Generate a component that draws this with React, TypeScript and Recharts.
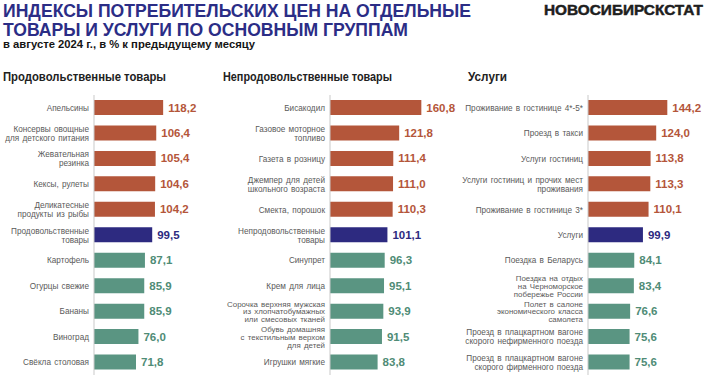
import { BarChart, Bar, XAxis, YAxis, Cell, LabelList } from "recharts";

const foodNames = [
  "Апельсины",
  "Консервы овощные\nдля детского питания",
  "Жевательная\nрезинка",
  "Кексы, рулеты",
  "Деликатесные\nпродукты из рыбы",
  "Продовольственные\nтовары",
  "Картофель",
  "Огурцы свежие",
  "Бананы",
  "Виноград",
  "Свёкла столовая",
];
const foodValues = [118.2, 106.4, 105.4, 104.6, 104.2, 99.5, 87.1, 85.9, 85.9, 76.0, 71.8];

const nonFoodNames = [
  "Бисакодил",
  "Газовое моторное\nтопливо",
  "Газета в розницу",
  "Джемпер для детей\nшкольного возраста",
  "Смекта, порошок",
  "Непродовольственные\nтовары",
  "Синупрет",
  "Крем для лица",
  "Сорочка верхняя мужская\nиз хлопчатобумажных\nили смесовых тканей",
  "Обувь домашняя\nс текстильным верхом\nдля детей",
  "Игрушки мягкие",
];
const nonFoodValues = [160.8, 121.8, 111.4, 111.0, 110.3, 101.1, 96.3, 95.1, 93.9, 91.5, 83.8];

const serviceNames = [
  "Проживание в гостинице 4*-5*",
  "Проезд в такси",
  "Услуги гостиниц",
  "Услуги гостиниц и прочих мест\nпроживания",
  "Проживание в гостинице 3*",
  "Услуги",
  "Поездка в Беларусь",
  "Поездка на отдых\nна Черноморское\nпобережье России",
  "Полет в салоне\nэкономического класса\nсамолета",
  "Проезд в плацкартном вагоне\nскорого нефирменного поезда",
  "Проезд в плацкартном вагоне\nскорого фирменного поезда",
];
const serviceValues = [144.2, 124.0, 113.8, 113.3, 110.1, 99.9, 84.1, 83.4, 76.6, 75.6, 75.6];

// index of the group total row in each panel
const TOTAL_INDEX = 5;

const RED = "#B4563A";
const NAVY = "#2D2A80";
const GREEN = "#5A9582";
const GREEN_TEXT = "#4F8C76";
const FONT = "'Liberation Sans', Arial, sans-serif";

function barColor(v: number, total: number) {
  if (v > total) return RED;
  if (v < total) return GREEN;
  return NAVY;
}

function textColor(v: number, total: number) {
  if (v > total) return RED;
  if (v < total) return GREEN_TEXT;
  return NAVY;
}

function NameTick(props: any) {
  const { x, y, payload } = props;
  const lines = String(payload.value).split("\n");
  const three = lines.length > 2;
  const lh = three ? 7.7 : 9;
  const y0 = y - ((lines.length - 1) * lh) / 2 + 3;
  return (
    <text
      x={x}
      y={y0}
      textAnchor="end"
      fontSize={three ? 7.9 : 8.2}
      fill="#5a5a5a"
      fontFamily={FONT}
      wordSpacing={1}
    >
      {lines.map((l, i) => (
        <tspan key={i} x={x} y={y0 + i * lh}>
          {l}
        </tspan>
      ))}
    </text>
  );
}

interface PanelProps {
  names: string[];
  values: number[];
  left: number;
  pad: number;
  axisWidth: number;
  domainMax: number;
  width: number;
}

function Panel({ names, values, left, pad, axisWidth, domainMax, width }: PanelProps) {
  const total = values[TOTAL_INDEX];
  const data = names.map((n, i) => ({ name: n, value: values[i] }));

  const renderValue = (p: any) => {
    const v = Number(p.value);
    return (
      <text
        x={Number(p.x) + Number(p.width) + 5}
        y={Number(p.y) + Number(p.height) / 2 + 4}
        fontSize={11.5}
        fontWeight="bold"
        fontFamily={FONT}
        fill={textColor(v, total)}
      >
        {v.toFixed(1).replace(".", ",")}
      </text>
    );
  };

  return (
    <div style={{ position: "absolute", left: left - pad, top: 0 }}>
      <BarChart
        width={width + pad}
        height={376}
        data={data}
        layout="vertical"
        margin={{ top: 95, right: 0, bottom: 1, left: pad }}
      >
        <XAxis type="number" domain={[0, domainMax]} hide />
        <YAxis
          type="category"
          dataKey="name"
          width={axisWidth}
          tickLine={false}
          tickSize={0}
          tickMargin={5}
          interval={0}
          axisLine={{ stroke: "#c9c9c9" }}
          tick={<NameTick />}
        />
        <Bar dataKey="value" barSize={15} isAnimationActive={false}>
          {data.map((d, i) => (
            <Cell key={i} fill={barColor(d.value, total)} />
          ))}
          <LabelList dataKey="value" content={renderValue} />
        </Bar>
      </BarChart>
    </div>
  );
}

export default function App() {
  return (
    <div
      style={{
        position: "absolute",
        left: 0,
        top: 0,
        width: 710,
        height: 376,
        background: "#fff",
        overflow: "hidden",
        fontFamily: FONT,
      }}
    >
      <svg width={710} height={90} style={{ position: "absolute", left: 0, top: 0 }}>
        <text x={3} y={17} fontSize={19} fontWeight="bold" fill="#2B2D86" textLength={468} lengthAdjust="spacingAndGlyphs" fontFamily={FONT}>
          ИНДЕКСЫ ПОТРЕБИТЕЛЬСКИХ ЦЕН НА ОТДЕЛЬНЫЕ
        </text>
        <text x={3} y={35.5} fontSize={19} fontWeight="bold" fill="#2B2D86" textLength={405} lengthAdjust="spacingAndGlyphs" fontFamily={FONT}>
          ТОВАРЫ И УСЛУГИ ПО ОСНОВНЫМ ГРУППАМ
        </text>
        <text x={3} y={48} fontSize={11.6} fontWeight="bold" fill="#151515" textLength={252} lengthAdjust="spacingAndGlyphs" fontFamily={FONT}>
          в августе 2024 г., в % к предыдущему месяцу
        </text>
        <text x={544} y={15} fontSize={15} fontWeight="bold" fill="#1e1e1e" stroke="#1e1e1e" strokeWidth={0.5} textLength={159} lengthAdjust="spacingAndGlyphs" fontFamily={FONT}>
          НОВОСИБИРСКСТАТ
        </text>
        <text x={3} y={81} fontSize={12.5} fontWeight="bold" fill="#222" textLength={163} lengthAdjust="spacingAndGlyphs" fontFamily={FONT}>
          Продовольственные товары
        </text>
        <text x={223} y={81} fontSize={12.5} fontWeight="bold" fill="#222" textLength={169} lengthAdjust="spacingAndGlyphs" fontFamily={FONT}>
          Непродовольственные товары
        </text>
        <text x={468} y={81} fontSize={12.5} fontWeight="bold" fill="#222" textLength={39} lengthAdjust="spacingAndGlyphs" fontFamily={FONT}>
          Услуги
        </text>
      </svg>
      <Panel names={foodNames} values={foodValues} left={0} pad={0} axisWidth={94} domainMax={200} width={211} />
      <Panel names={nonFoodNames} values={nonFoodValues} left={220} pad={20} axisWidth={110} domainMax={250} width={252} />
      <Panel names={serviceNames} values={serviceValues} left={460} pad={20} axisWidth={128} domainMax={220} width={249} />
    </div>
  );
}
